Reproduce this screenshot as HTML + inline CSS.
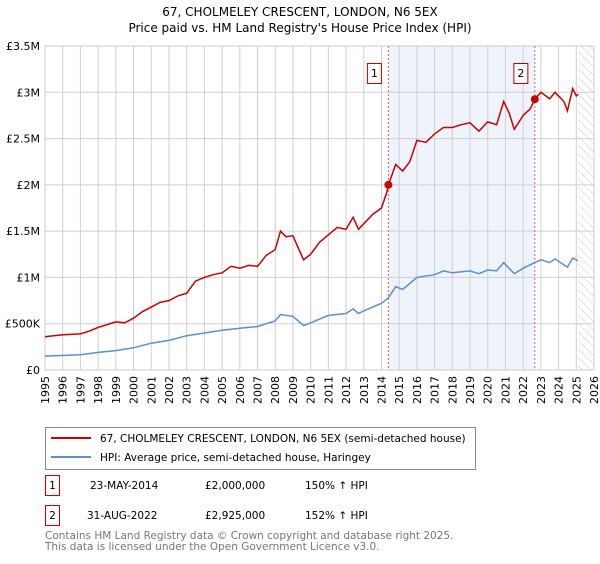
<!DOCTYPE html>
<html><head><meta charset="utf-8"><style>
body{margin:0;background:#fff;font-family:"DejaVu Sans","Liberation Sans",sans-serif;}
svg text{font-family:"DejaVu Sans","Liberation Sans",sans-serif;}
</style></head><body>
<svg id="chart" width="600" height="560" xmlns="http://www.w3.org/2000/svg">
<defs><pattern id="hatch" width="6" height="6" patternUnits="userSpaceOnUse" patternTransform="rotate(-45)"><line x1="0" y1="0" x2="0" y2="6" stroke="#bbb" stroke-width="0.8"/></pattern></defs>
<text x="300" y="16" text-anchor="middle" font-size="12">67, CHOLMELEY CRESCENT, LONDON, N6 5EX</text>
<text x="300" y="32" text-anchor="middle" font-size="12">Price paid vs. HM Land Registry's House Price Index (HPI)</text>
<g id="plot"></g>
<g>
<rect x="45.5" y="427.5" width="430" height="42" fill="#fff" stroke="#888"/>
<line x1="51" y1="438" x2="91" y2="438" stroke="#cc0000" stroke-width="2"/>
<text x="100" y="442" font-size="10.5">67, CHOLMELEY CRESCENT, LONDON, N6 5EX (semi-detached house)</text>
<line x1="51" y1="457" x2="91" y2="457" stroke="#5b8fd6" stroke-width="2"/>
<text x="100" y="461" font-size="10.5">HPI: Average price, semi-detached house, Haringey</text>
</g>
<g font-size="10.5">
<rect x="45.5" y="475.5" width="14" height="20" fill="none" stroke="#cc0000"/><text x="52.5" y="489" text-anchor="middle">1</text>
<text x="90" y="489">23-MAY-2014</text><text x="205" y="489">£2,000,000</text><text x="305" y="489">150% ↑ HPI</text>
<rect x="45.5" y="505.5" width="14" height="20" fill="none" stroke="#cc0000"/><text x="52.5" y="519" text-anchor="middle">2</text>
<text x="87" y="519">31-AUG-2022</text><text x="205" y="519">£2,925,000</text><text x="305" y="519">152% ↑ HPI</text>
</g>
<text x="45" y="539" font-size="10.5" fill="#777">Contains HM Land Registry data © Crown copyright and database right 2025.</text>
<text x="45" y="550" font-size="10.5" fill="#777">This data is licensed under the Open Government Licence v3.0.</text>
</svg>
<script>
const redYears=[1995,1996,1997,1997.5,1998,1998.5,1999,1999.5,2000,2000.5,2001,2001.5,2002,2002.5,2003,2003.5,2004,2004.5,2005,2005.5,2006,2006.5,2007,2007.5,2008,2008.3,2008.6,2009,2009.3,2009.6,2010,2010.5,2011,2011.5,2012,2012.4,2012.7,2013,2013.5,2014,2014.3,2014.39,2014.8,2015.2,2015.6,2016,2016.5,2017,2017.5,2018,2018.5,2019,2019.5,2020,2020.5,2020.9,2021.2,2021.5,2022,2022.4,2022.66,2023,2023.5,2023.8,2024.3,2024.5,2024.8,2025.0,2025.1];
const redValues=[0.36,0.38,0.39,0.42,0.46,0.49,0.52,0.51,0.56,0.63,0.68,0.73,0.75,0.80,0.83,0.96,1.00,1.03,1.05,1.12,1.10,1.13,1.12,1.24,1.30,1.50,1.44,1.45,1.32,1.19,1.25,1.38,1.46,1.54,1.52,1.65,1.52,1.58,1.68,1.75,1.92,2.0,2.22,2.15,2.25,2.48,2.46,2.55,2.62,2.62,2.65,2.67,2.58,2.68,2.65,2.90,2.78,2.60,2.75,2.82,2.925,3.0,2.93,3.0,2.90,2.80,3.04,2.96,2.98];
const hpiYears=[1995,1997,1998,1999,2000,2001,2002,2003,2004,2005,2006,2007,2008,2008.3,2009,2009.6,2010,2011,2012,2012.4,2012.7,2013,2014,2014.39,2014.8,2015.2,2016,2017,2017.5,2018,2019,2019.5,2020,2020.5,2020.9,2021.5,2022,2022.66,2023,2023.5,2023.8,2024.5,2024.8,2025.1];
const hpiValues=[0.15,0.165,0.19,0.21,0.24,0.29,0.32,0.37,0.40,0.43,0.45,0.47,0.53,0.60,0.58,0.48,0.51,0.59,0.61,0.66,0.61,0.64,0.72,0.78,0.90,0.87,1.0,1.03,1.07,1.05,1.07,1.04,1.08,1.07,1.16,1.04,1.10,1.16,1.19,1.16,1.20,1.11,1.21,1.18];
const saleYears=[2014.39,2022.66];
const saleValues=[2.0,2.925];
const saleLabels=["1","2"];
const yTicks=[0,0.5,1,1.5,2,2.5,3,3.5];
const yTickLabels=["£0","£500K","£1M","£1.5M","£2M","£2.5M","£3M","£3.5M"];
const xTicks=[1995,1996,1997,1998,1999,2000,2001,2002,2003,2004,2005,2006,2007,2008,2009,2010,2011,2012,2013,2014,2015,2016,2017,2018,2019,2020,2021,2022,2023,2024,2025,2026];
const X0=45,X1=594,Y0=370,Y1=46,xmin=1995,xmax=2026,ymax=3.5,hatchStart=2025.1;
const xs=v=>X0+(v-xmin)/(xmax-xmin)*(X1-X0);
const ys=v=>Y0-v/ymax*(Y0-Y1);
const NS="http://www.w3.org/2000/svg";
const g=document.getElementById('plot');
function mk(t,a,p){const e=document.createElementNS(NS,t);for(const k in a)e.setAttribute(k,a[k]);(p||g).appendChild(e);return e;}
let e=mk('rect',{x:xs(saleYears[0]),y:Y1,width:xs(saleYears[1])-xs(saleYears[0]),height:Y0-Y1,fill:'#eef3fc'});


e=mk('rect',{x:xs(hatchStart),y:Y1,width:X1-xs(hatchStart),height:Y0-Y1,fill:'url(#hatch)'});


xTicks.forEach(t=>{mk('line',{x1:xs(t),x2:xs(t),y1:Y1,y2:Y0,stroke:'#d0d0d0'});
 const l=mk('text',{x:0,y:0,'font-size':11,'text-anchor':'end',transform:`translate(${xs(t)+4},${Y0+6}) rotate(-90)`});l.textContent=t;
 
 });
yTicks.forEach((t,i)=>{mk('line',{x1:X0,x2:X1,y1:ys(t),y2:ys(t),stroke:'#d0d0d0'});
 const l=mk('text',{x:40,y:ys(t)+4,'font-size':11,'text-anchor':'end'});l.textContent=yTickLabels[i];
 
 });
mk('rect',{x:X0,y:Y1,width:X1-X0,height:Y0-Y1,fill:'none',stroke:'#ccc'});
saleYears.forEach((s,i)=>{mk('line',{x1:xs(s),x2:xs(s),y1:Y1,y2:Y0,stroke:'#e06070','stroke-dasharray':'2,2'});
 const b=mk('rect',{x:xs(s)-21,y:63.5,width:14,height:20,fill:'#fff',stroke:'#cc0000'});
 
 
 const t=mk('text',{x:xs(s)-14,y:77,'font-size':11,'text-anchor':'middle'});t.textContent=saleLabels[i];});
const path=(xa,va)=>xa.map((x,i)=>(i?'L':'M')+xs(x).toFixed(1)+','+ys(va[i]).toFixed(1)).join('');
e=mk('path',{d:path(hpiYears,hpiValues),fill:'none',stroke:'#5b8fd6','stroke-width':1.5});


e=mk('path',{d:path(redYears,redValues),fill:'none',stroke:'#cc0000','stroke-width':1.5});


saleYears.forEach((s,i)=>{const c=mk('circle',{cx:xs(s),cy:ys(saleValues[i]),r:4,fill:'#cc0000'});
 
 });
</script>
</body></html>
